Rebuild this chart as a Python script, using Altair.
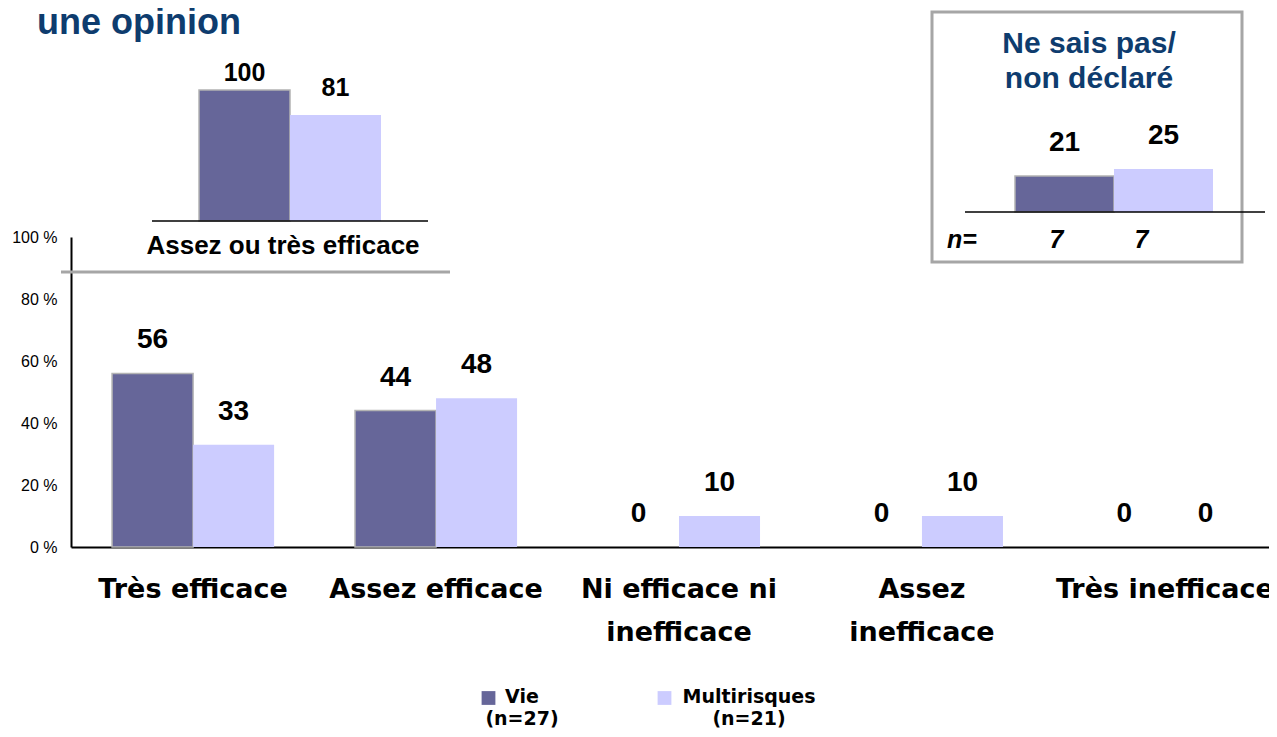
import json
import altair as alt
import pandas as pd

# ---------------- data ----------------
categories = ["Très efficace", "Assez efficace", "Ni efficace ni inefficace",
              "Assez inefficace", "Très inefficace"]
category_lines = {
    "Ni efficace ni inefficace": ["Ni efficace ni", "inefficace"],
    "Assez inefficace": ["Assez", "inefficace"],
}
series = ["Vie", "Multirisques"]
series_n = [27, 21]
vie_values = [56, 44, 0, 0, 0]
multi_values = [33, 48, 10, 10, 0]

summary_label = "Assez ou très efficace"
summary_values = [100, 81]

nsp_title = "Ne sais pas/\nnon déclaré"
nsp_values = [21, 25]
nsp_n = [7, 7]

y_ticks = [0, 20, 40, 60, 80, 100]
title_text = "une opinion"

colors = ["#666699", "#CCCCFF"]
BLUE = "#0E3C6E"
GRAY = "#A6A6A6"
ARIAL = "Liberation Sans"
WIDE = "DejaVu Sans"

# ---------------- tables ----------------
main_df = pd.DataFrame({
    "category": categories * 2,
    "series": [series[0]] * len(categories) + [series[1]] * len(categories),
    "value": vie_values + multi_values,
})
summary_df = pd.DataFrame({"series": series, "value": summary_values})
nsp_df = pd.DataFrame({"series": series, "value": nsp_values, "n": nsp_n})
legend_df = pd.DataFrame({
    "series": series,
    "label": [f"{s}\n(n={n})" for s, n in zip(series, series_n)],
})
one = pd.DataFrame({"k": [0]})

label_expr = "datum.label"
for k, lines in reversed(list(category_lines.items())):
    label_expr = (f"datum.label === {json.dumps(k, ensure_ascii=False)} ? "
                  f"{json.dumps(lines, ensure_ascii=False)} : ({label_expr})")

color = alt.Color("series:N", scale=alt.Scale(domain=series, range=colors), legend=None)
vie_stroke = alt.condition("datum.series === 'Vie'", alt.value(1.5), alt.value(0))

# ---------------- main chart ----------------
main_x = alt.X(
    "category:N", title=None,
    scale=alt.Scale(domain=categories, range=[0, 1216], paddingInner=0.333, paddingOuter=0.169),
    axis=alt.Axis(labelExpr=label_expr, labelFont=WIDE, labelFontSize=27, labelFontWeight="bold",
                  labelColor="black", labelPadding=29, labelLineHeight=43, labelAngle=0,
                  labelLimit=0, ticks=False, tickSize=0, domainColor="black", domainWidth=2,
                  labelBaseline="top"),
)
main_y = alt.Y(
    "value:Q", title=None, scale=alt.Scale(domain=[0, 100]),
    axis=alt.Axis(values=y_ticks, labelExpr="datum.value + ' %'", labelFont=ARIAL,
                  labelFontSize=16, labelColor="black", labelPadding=14, ticks=False,
                  tickSize=0, grid=False, domainColor="black", domainWidth=2),
)
main_off = alt.XOffset("series:N", scale=alt.Scale(domain=series, paddingInner=0, paddingOuter=0))

main_bars = alt.Chart(main_df).transform_filter("datum.value > 0").mark_bar(
    stroke="#B3B3B3").encode(x=main_x, xOffset=main_off, y=main_y, color=color,
                             strokeWidth=vie_stroke)
main_labels = alt.Chart(main_df).mark_text(
    font=ARIAL, fontSize=28, fontWeight="bold", color="black", baseline="middle", dy=-33
).encode(x=main_x, xOffset=main_off, y=main_y, text="value:Q")
main = alt.layer(main_bars, main_labels)

# ---------------- inset: Assez ou très efficace ----------------
s1_x = alt.X("series:N", scale=alt.Scale(domain=series, range=[128, 310],
                                          paddingInner=0, paddingOuter=0), axis=None)
s1_y = alt.Y("value:Q", scale=alt.Scale(domain=[0, 100], range=[-16, -147]), axis=None)
s1_bars = alt.Chart(summary_df).mark_bar(stroke="#B3B3B3").encode(
    x=s1_x, y=s1_y, color=color, strokeWidth=vie_stroke)
s1_lab_vie = alt.Chart(summary_df).transform_filter("datum.series === 'Vie'").mark_text(
    font=ARIAL, fontSize=25, fontWeight="bold", color="black", baseline="middle", dy=-17
).encode(x=s1_x, y=s1_y, text="value:Q")
s1_lab_multi = alt.Chart(summary_df).transform_filter("datum.series !== 'Vie'").mark_text(
    font=ARIAL, fontSize=25, fontWeight="bold", color="black", baseline="middle", dy=-27
).encode(x=s1_x, y=s1_y, text="value:Q")
inset1 = alt.layer(s1_bars, s1_lab_vie, s1_lab_multi)

s1_base = alt.Chart(one).mark_rule(color="black", strokeWidth=1.5).encode(
    x=alt.value(81), x2=alt.value(357), y=alt.value(-16))
s1_text = alt.Chart(one).mark_text(
    text=summary_label, font=ARIAL, fontSize=26, fontWeight="bold", color="black",
    align="center", baseline="middle").encode(x=alt.value(212), y=alt.value(9))
s1_sep = alt.Chart(one).mark_rule(color=GRAY, strokeWidth=3).encode(
    x=alt.value(-10), x2=alt.value(379), y=alt.value(35))

# ---------------- inset: Ne sais pas ----------------
s2_x = alt.X("series:N", scale=alt.Scale(domain=series, range=[944, 1142],
                                          paddingInner=0, paddingOuter=0), axis=None)
s2_y = alt.Y("value:Q", scale=alt.Scale(domain=[0, 100], range=[-25, -197]), axis=None)
s2_bars = alt.Chart(nsp_df).mark_bar(stroke="#B3B3B3").encode(
    x=s2_x, y=s2_y, color=color, strokeWidth=vie_stroke)
s2_labels = alt.Chart(nsp_df).mark_text(
    font=ARIAL, fontSize=28, fontWeight="bold", color="black", baseline="middle", dy=-33
).encode(x=s2_x, y=s2_y, text="value:Q")
inset2 = alt.layer(s2_bars, s2_labels)

s2_n = alt.Chart(nsp_df).mark_text(
    font=ARIAL, fontSize=25, fontWeight="bold", fontStyle="italic", color="black",
    align="center", baseline="alphabetic").encode(
    x=alt.X("series:N", scale=alt.Scale(domain=series, range=[943, 1113],
                                         paddingInner=0, paddingOuter=0), axis=None),
    y=alt.value(11), text="n:Q")

s2_box = alt.Chart(one).mark_rect(fillOpacity=0, stroke=GRAY, strokeWidth=3).encode(
    x=alt.value(861), x2=alt.value(1171), y=alt.value(-225), y2=alt.value(25))
s2_base = alt.Chart(one).mark_rule(color="black", strokeWidth=1.5).encode(
    x=alt.value(894), x2=alt.value(1194), y=alt.value(-25))
s2_title = alt.Chart(one).mark_text(
    text=nsp_title, lineBreak="\n", lineHeight=35, font=ARIAL, fontSize=30,
    fontWeight="bold", color=BLUE, align="center", baseline="alphabetic").encode(
    x=alt.value(1018), y=alt.value(-184))
s2_nlabel = alt.Chart(one).mark_text(
    text="n=", font=ARIAL, fontSize=25, fontWeight="bold", fontStyle="italic",
    color="black", align="left", baseline="alphabetic").encode(
    x=alt.value(876), y=alt.value(11))

# ---------------- title ----------------
title = alt.Chart(one).mark_text(
    text=title_text, font=ARIAL, fontSize=36, fontWeight="bold", color=BLUE,
    align="left", baseline="alphabetic").encode(x=alt.value(-34), y=alt.value(-203))

# ---------------- legend ----------------
leg_sq = alt.Chart(legend_df).mark_square(size=190, opacity=1).encode(
    x=alt.X("series:N", scale=alt.Scale(type="point", domain=series, range=[417.5, 593.5],
                                         padding=0), axis=None),
    y=alt.value(461), color=color)
leg_txt = alt.Chart(legend_df).mark_text(
    lineBreak="\n", lineHeight=22, font=WIDE, fontSize=19, fontWeight="bold",
    color="black", align="center", baseline="alphabetic").encode(
    x=alt.X("series:N", scale=alt.Scale(type="point", domain=series, range=[451, 678],
                                         padding=0), axis=None),
    y=alt.value(466), text="label:N")

chart = alt.layer(
    main, inset1, s1_base, s1_text, s1_sep,
    s2_box, inset2, s2_n, s2_base, s2_title, s2_nlabel,
    title, leg_sq, leg_txt,
).resolve_scale(x="independent", y="independent").properties(
    width=1198, height=310,
    autosize=alt.AutoSizeParams(type="none"),
    padding={"left": 63, "top": 229, "right": 0, "bottom": 182},
    background="white",
).configure_view(strokeWidth=0)

chart.save("out.html", embed_options={"renderer": "svg", "actions": False})
